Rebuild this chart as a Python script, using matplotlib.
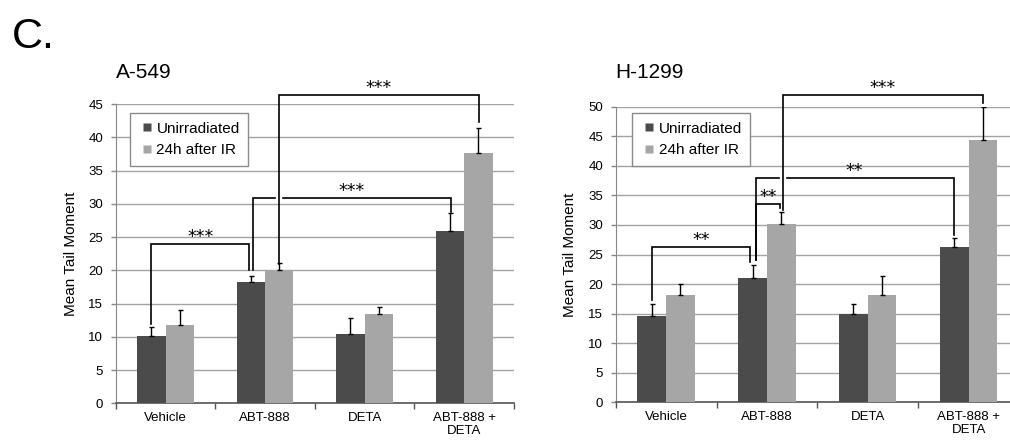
import matplotlib
matplotlib.use("Agg")
import matplotlib.pyplot as plt
from matplotlib.lines import Line2D
import numpy as np

plt.rcParams['font.family'] = ['Liberation Sans', 'DejaVu Sans']

# categories and series
categories = ["Vehicle", "ABT-888", "DETA", "ABT-888 +\nDETA"]
series_names = ["Unirradiated", "24h after IR"]

a549_unirr = [10.1, 18.2, 10.5, 25.9]
a549_unirr_err = [1.4, 0.9, 2.3, 2.7]
a549_ir = [11.8, 20.0, 13.5, 37.6]
a549_ir_err = [2.2, 1.1, 1.0, 3.9]

h1299_unirr = [14.6, 21.1, 15.0, 26.2]
h1299_unirr_err = [2.0, 2.2, 1.6, 1.6]
h1299_ir = [18.1, 30.1, 18.1, 44.4]
h1299_ir_err = [1.9, 2.1, 3.2, 5.5]

# significance brackets: (x1, leg1 bottom, x2, leg2 bottom, level, label, gap at x)
a549_brackets = [
    (0 - 0.148, 12.0, 1 - 0.157, 20.0, 24.0, "***", None),
    (1 - 0.117, 20.0, 3 - 0.137, 28.85, 30.9, "***", 1 + 0.144),
    (1 + 0.144, 21.0, 3 + 0.144, 42.4, 46.4, "***", None),
]
h1299_brackets = [
    (0 - 0.138, 17.3, 1 - 0.163, 23.7, 26.3, "**", None),
    (1 - 0.110, 24.0, 1 + 0.128, 32.8, 33.5, "**", None),
    (1 + 0.161, 32.5, 3 + 0.139, 50.7, 52.0, "***", None),
    (1 - 0.110, 24.0, 3 - 0.149, 28.3, 37.9, "**", 1 + 0.161),
]

DARK = '#4b4b4b'
LIGHT = '#a6a6a6'
W = 0.285


def bracket(ax, x1, y1, x2, y2, h, label, gap_at):
    kw = dict(color='black', lw=1.2, clip_on=False, zorder=5,
              solid_joinstyle='miter')
    if gap_at is None:
        ax.plot([x1, x1, x2, x2], [y1, h, h, y2], **kw)
    else:
        d = 0.04
        ax.plot([x1, x1, gap_at - d], [y1, h, h], **kw)
        ax.plot([gap_at + d, x2, x2], [h, h, y2], **kw)
    ax.annotate(label, xy=((x1 + x2) / 2, h), xytext=(0, 1.3),
                textcoords='offset points', ha='center', va='baseline',
                fontsize=12.5, family='DejaVu Sans', annotation_clip=False)


def panel(ax, title, unirr, unirr_err, ir, ir_err, ymax, brackets,
          title_off, leg_anchor):
    x = np.arange(len(categories))
    ax.bar(x - W / 2, unirr, W, color=DARK, zorder=3,
           yerr=[np.zeros(len(unirr)), unirr_err],
           error_kw=dict(ecolor='black', elinewidth=1, capsize=1.8,
                         capthick=1))
    ax.bar(x + W / 2, ir, W, color=LIGHT, zorder=3,
           yerr=[np.zeros(len(ir)), ir_err],
           error_kw=dict(ecolor='black', elinewidth=1, capsize=1.8,
                         capthick=1))

    ax.set_xlim(-0.5, len(categories) - 0.5)
    ax.set_ylim(0, ymax)
    ax.set_yticks(np.arange(0, ymax + 1, 5))
    ax.yaxis.grid(True, color='#a3a3a3', lw=1, zorder=0)
    ax.set_axisbelow(True)

    ax.set_xticks(np.arange(-0.5, len(categories), 1))
    ax.set_xticklabels([])
    ax.set_xticks(x, minor=True)
    ax.set_xticklabels(categories, minor=True, fontsize=9.5)
    ax.tick_params(axis='x', which='minor', length=0, pad=6)
    ax.tick_params(axis='x', which='major', length=4.5, width=1,
                   color='#555555', direction='out')
    ax.tick_params(axis='y', length=3.5, width=1, color='#888888',
                   labelsize=9.5, pad=5.5)

    for s in ['top', 'right']:
        ax.spines[s].set_visible(False)
    ax.spines['left'].set_color('#888888')
    ax.spines['bottom'].set_color('#555555')
    ax.spines['bottom'].set_linewidth(1.2)

    ax.set_ylabel("Mean Tail Moment", fontsize=11)
    ax.yaxis.set_label_coords(-0.095, 0.5)

    ax.text(0, 1 + title_off, title, transform=ax.transAxes, fontsize=15,
            ha='left', va='baseline')

    handles = [Line2D([], [], ls='none', marker='s', markersize=5.2,
                      markerfacecolor=c, markeredgecolor='none')
               for c in (DARK, LIGHT)]
    leg = ax.legend(handles, series_names, loc='upper left',
                    bbox_to_anchor=leg_anchor, borderaxespad=0, fontsize=11,
                    fancybox=False, framealpha=1, edgecolor='#8a8a8a',
                    handlelength=1.15, handletextpad=0.05, labelspacing=0.5,
                    borderpad=0.55)
    leg.get_frame().set_linewidth(1)
    leg.set_zorder(6)

    for b in brackets:
        bracket(ax, *b)


fig = plt.figure(figsize=(10.1, 4.42), dpi=100)
ax1 = fig.add_axes([0.1146, 0.0876, 0.3943, 0.6765])
ax2 = fig.add_axes([0.6096, 0.0898, 0.3993, 0.6688])

panel(ax1, "A-549", a549_unirr, a549_unirr_err, a549_ir, a549_ir_err, 45,
      a549_brackets, 26.3 / 299, (0.035, 0.97))
panel(ax2, "H-1299", h1299_unirr, h1299_unirr_err, h1299_ir, h1299_ir_err,
      50, h1299_brackets, 28.4 / 295.6, (0.04, 0.978))

fig.text(12 / 1010, 1 - 48 / 442, "C.", fontsize=31, ha='left',
         va='baseline')

fig.savefig("out.png", dpi=100)
